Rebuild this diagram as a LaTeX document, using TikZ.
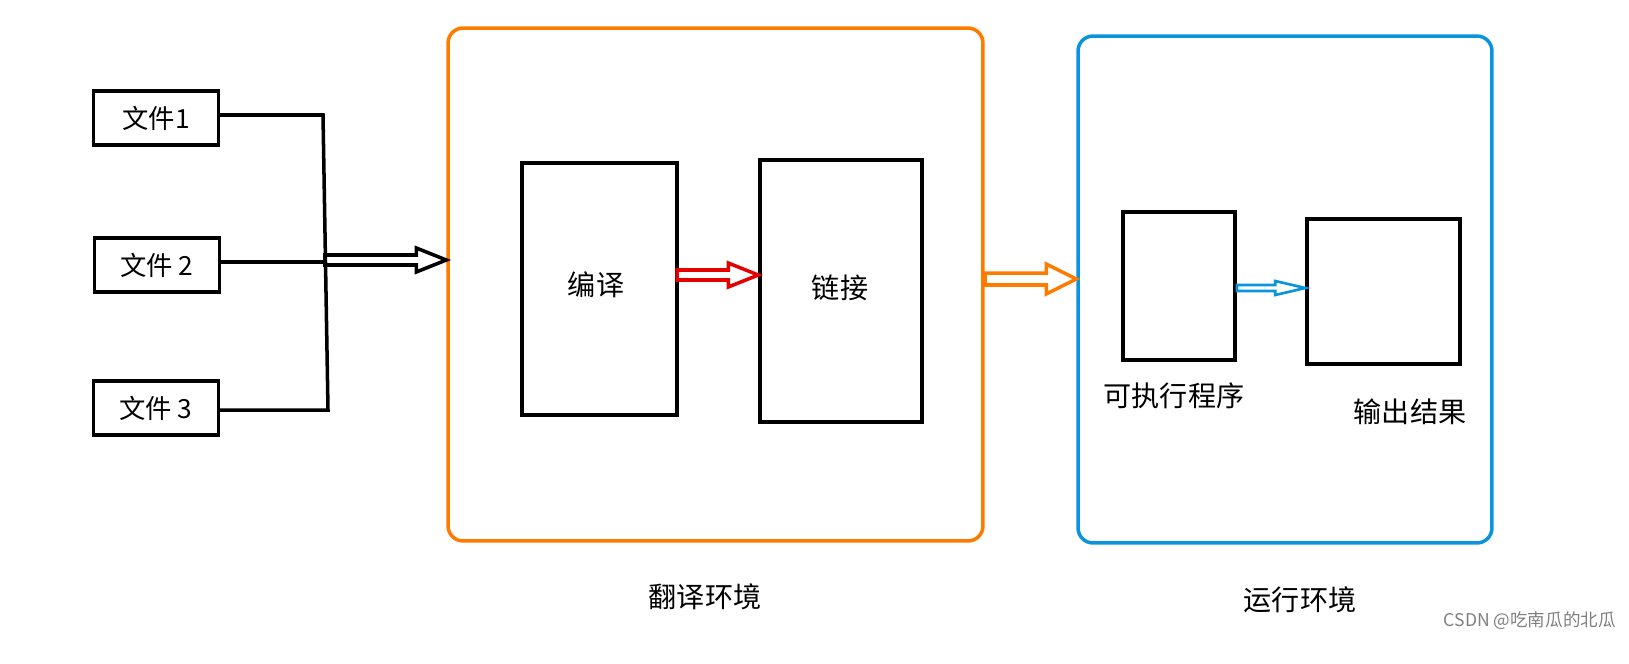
\documentclass[tikz,border=0pt]{standalone}
\usepackage{fontspec}
\setmainfont{Noto Sans CJK SC}
\usetikzlibrary{calc}

% hollow block arrow: style, tail, tip, shaft half width, head half width
\newcommand\fatarrow[5]{%
  \draw[#1, line join=miter] let \p1=(#2), \p2=(#3) in
    (\x1,\y1+#4) -- (\x2-0.6cm,\y1+#4) -- (\x2-0.6cm,\y1+#5) -- (\x2,\y1)
    -- (\x2-0.6cm,\y1-#5) -- (\x2-0.6cm,\y1-#4) -- (\x1,\y1-#4) -- cycle;}

\tikzset{
  file/.style={draw, line width=2pt, minimum width=2.5cm, minimum height=1.08cm, inner sep=0pt, font=\fontsize{15}{18}\selectfont},
  stage/.style={draw, line width=2pt, inner sep=0pt},
  env/.style={draw, line width=2pt, rounded corners=0.3cm, inner sep=0pt},
  lbl/.style={font=\fontsize{16}{19}\selectfont}
}

\begin{document}
\begin{tikzpicture}[x=0.02cm, y=-0.02cm]
	\useasboundingbox (0,0) rectangle (1629,663);
	% source files
	\node[file] (f1) at (156,118) {文件1};
	\node[file] (f2) at (157,265) {文件 2};
	\node[file] (f3) at (156,408) {文件 3};
	\coordinate (top) at (323,115);
	\coordinate (bot) at (328,410);
	\coordinate (mid) at (325,262);
	\draw[line width=2pt] (f1.east |- top) -- (top) -- (bot) -- (f3.east |- bot);
	\draw[line width=2pt] (f2.east |- mid) -- (mid);
	% translation environment
	\node[env, draw=orange!85!red!90!yellow, minimum width=10.7cm, minimum height=10.26cm] (trans) at (715.5,284.5) {};
	\node[stage, minimum width=3.1cm, minimum height=5.04cm] (comp) at (599.5,289) {};
	\node[lbl] at (596,285) {编译};
	\node[stage, minimum width=3.24cm, minimum height=5.24cm] (link) at (841,291) {};
	\node[lbl] at (840,288) {链接};
	\node[lbl] at (705,597) {翻译环境};
	% run environment
	\node[env, draw=cyan!80!blue, minimum width=8.28cm, minimum height=10.14cm] (run) at (1285,289.5) {};
	\node[stage, minimum width=2.24cm, minimum height=2.96cm] (exe) at (1179,286) {};
	\node[lbl] at (1174,396) {可执行程序};
	\node[stage, minimum width=3.06cm, minimum height=2.9cm] (out) at (1383.5,291.5) {};
	\node[lbl] at (1410,412) {输出结果};
	\node[lbl] at (1300,600) {运行环境};
	\node[font=\fontsize{10}{12}\selectfont, text=gray, anchor=east] at (1622,621) {CSDN @吃南瓜的北瓜};
	% arrows
	\coordinate (a1) at (325,260);
	\coordinate (a2) at (677,275);
	\coordinate (a3) at (985,279);
	\coordinate (a4) at (1237,288);
	\fatarrow{line width=2pt}{a1}{trans.west |- a1}{0.1cm}{0.24cm}
	\fatarrow{line width=2pt, red!90!black}{a2}{link.west |- a2}{0.1cm}{0.24cm}
	\fatarrow{line width=2pt, orange!85!red!90!yellow}{a3}{run.west |- a3}{0.12cm}{0.3cm}
	\fatarrow{line width=1.5pt, cyan!80!blue}{a4}{out.west |- a4}{0.06cm}{0.14cm}
\end{tikzpicture}
\end{document}
